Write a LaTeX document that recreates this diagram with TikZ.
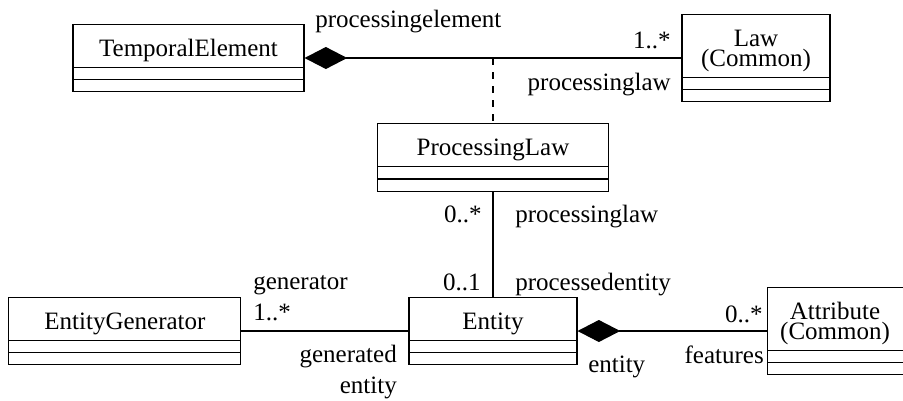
\documentclass[tikz,border=0pt]{standalone}
\usepackage{fontspec}
\setmainfont{Liberation Serif}
\usepackage{tikz}
\usetikzlibrary{arrows.meta,positioning,shapes.multipart}
\newcommand{\clsname}[1]{\rule{0pt}{24pt}#1\rule[-7.9pt]{0pt}{0pt}}
\tikzset{
    cls/.style={rectangle split, rectangle split parts=3, draw, line width=0.8pt,
                rectangle split ignore empty parts=false,
                rectangle split empty part height=8.25pt,
                rectangle split empty part depth=0pt,
                inner sep=0pt, minimum width=#1, align=center},
    lbl/.style={inner sep=0pt},
    conn/.style={line width=0.8pt},
    comp/.style={{Diamond[length=32pt,width=16.5pt]}-, line width=0.8pt},
}

\begin{document}
\begin{tikzpicture}[x=0.75pt, y=-0.75pt,
    every node/.style={font=\fontsize{18.75pt}{15pt}\selectfont}]
    \useasboundingbox (0,0) rectangle (903,400);

    % classes
    \node[cls=126pt]                       (ent)  at (493,331) {\clsname{Entity}};
    \node[cls=173.25pt, above=78.75pt of ent] (plaw) {\clsname{ProcessingLaw}};
    \node[cls=174pt, left=125.25pt of ent]    (egen) {\clsname{EntityGenerator}};
    \node[cls=102pt, right=141.75pt of ent]   (attr) {\clsname{Attribute\\(Common)}};
    \node[cls=173.25pt]                    (temp) at (188.5,58) {\clsname{TemporalElement}};
    \node[cls=111pt]                       (law)  at (756,58)   {\clsname{Law\\(Common)}};

    % associations
    \draw[comp] (temp) -- (law);
    \coordinate (assoc) at (plaw.north |- temp.east);
    \draw[conn, dash pattern=on 5pt off 5.5pt] (assoc) -- (plaw);
    \draw[conn] (plaw) -- (ent);
    \draw[conn] (egen) -- (ent);
    \draw[comp] (ent)  -- (attr);

    % role names and multiplicities
    \node[lbl, anchor=base west] (rpe)  at (315,27)  {processingelement};
    \node[lbl, anchor=base east] (mlaw) at (671,48)  {1..*};
    \node[lbl, anchor=base east] (rpl1) at (671,90)  {processinglaw};
    \node[lbl, anchor=base east] (mpl)  at (482,222) {0..*};
    \node[lbl, anchor=base west] (rpl2) at (515,222) {processinglaw};
    \node[lbl, anchor=base east] (ment) at (481,290) {0..1};
    \node[lbl, anchor=base west] (rpen) at (515,290) {processedentity};
    \node[lbl, anchor=base west] (rgen) at (253,289) {generator};
    \node[lbl, anchor=base west] (mgen) at (253,320) {1..*};
    \node[lbl, anchor=base east] (rgd1) at (397,362) {generated};
    \node[lbl, anchor=base east] (rgd2) at (397,393) {entity};
    \node[lbl, anchor=base east] (matt) at (763,322) {0..*};
    \node[lbl, anchor=base east] (rfea) at (764,363) {features};
    \node[lbl, anchor=base west] (rent) at (588,372) {entity};
\end{tikzpicture}
\end{document}
